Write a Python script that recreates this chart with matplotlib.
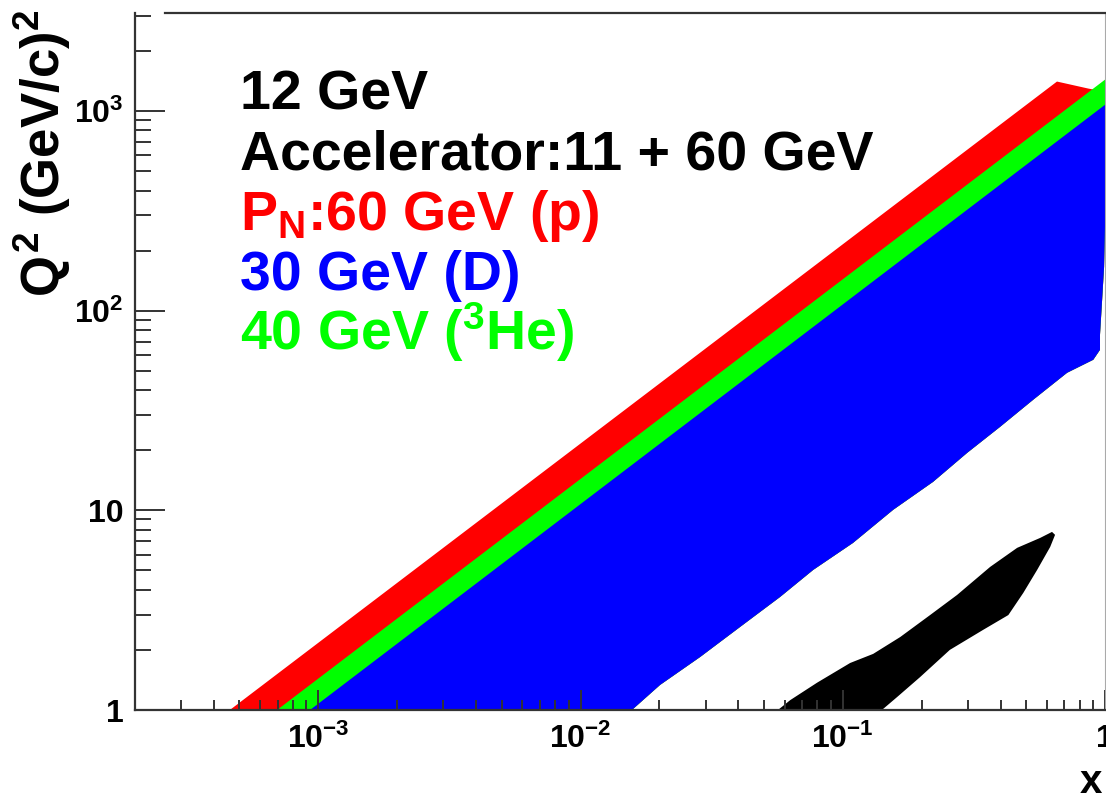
import numpy as np
import matplotlib
matplotlib.use("Agg")
import matplotlib.pyplot as plt
from matplotlib.ticker import FixedLocator, FixedFormatter, LogLocator, NullFormatter

plt.rcParams["font.family"] = ["Liberation Sans", "DejaVu Sans"]
plt.rcParams["font.weight"] = "bold"
plt.rcParams["mathtext.fontset"] = "custom"
plt.rcParams["mathtext.rm"] = "Liberation Sans:bold"
plt.rcParams["mathtext.it"] = "Liberation Sans:bold"
plt.rcParams["mathtext.bf"] = "Liberation Sans:bold"
plt.rcParams["mathtext.sf"] = "Liberation Sans:bold"

# ---- axis ranges and ticks ----
x_range = (2e-4, 1.0)
q2_range = (1.0, 3100.0)
x_ticks = [1e-3, 1e-2, 1e-1, 1.0]
x_tick_labels = [r"$10^{-3}$", r"$10^{-2}$", r"$10^{-1}$", "1"]
q2_ticks = [1.0, 10.0, 100.0, 1000.0]
q2_tick_labels = ["1", "10", r"$10^{2}$", r"$10^{3}$"]

# ---- EIC coverage: shared lower / right boundary (x, Q2) ----
edge_x = [0.0157, 0.0201, 0.0286, 0.0406, 0.0577, 0.0771, 0.1094, 0.1556,
          0.2211, 0.2979, 0.398, 0.532, 0.717, 0.902, 0.957, 0.957, 0.975,
          0.992, 1.0]
edge_q2 = [1.0, 1.335, 1.844, 2.607, 3.685, 5.03, 6.87, 10.06, 13.9, 19.4,
           26.2, 35.8, 48.9, 56.8, 63.7, 75.8, 113.5, 166.0, 264.0]

# upper boundaries of each beam configuration
p60_top_x = [4.6e-4, 0.656, 0.863, 1.0]
p60_top_q2 = [1.0, 1406.0, 1297.0, 1250.0]
he40_top_x = [6.96e-4, 1.0]
he40_top_q2 = [1.0, 1437.0]
d30_top_x = [9.3e-4, 1.0]
d30_top_q2 = [1.0, 1075.0]

# ---- 12 GeV fixed-target coverage ----
jlab_x = [0.0566, 0.0630, 0.0798, 0.1067, 0.1306, 0.1656, 0.2153, 0.2729,
          0.3648, 0.4624, 0.5662, 0.628, 0.645, 0.618, 0.551, 0.488, 0.428,
          0.343, 0.256, 0.197, 0.161, 0.141]
jlab_q2 = [1.0, 1.12, 1.37, 1.72, 1.91, 2.32, 2.99, 3.77, 5.21, 6.49, 7.28,
           7.80, 7.54, 6.56, 5.03, 3.86, 2.99, 2.52, 2.00, 1.46, 1.16, 1.0]

RED, GREEN, BLUE = "#ff0000", "#00ff00", "#0000ff"

W, H = 1106, 793
fig = plt.figure(figsize=(W / 100, H / 100), dpi=100)
ax = fig.add_axes([135 / W, (H - 710) / H, (1105 - 135) / W, (710 - 13) / H])
ax.set_xscale("log")
ax.set_yscale("log")
ax.set_xlim(*x_range)
ax.set_ylim(*q2_range)


def band(top_x, top_q2):
    xs = list(top_x) + edge_x[::-1]
    ys = list(top_q2) + edge_q2[::-1]
    return xs, ys


for tx, tq, col in [(p60_top_x, p60_top_q2, RED),
                    (he40_top_x, he40_top_q2, GREEN),
                    (d30_top_x, d30_top_q2, BLUE)]:
    xs, ys = band(tx, tq)
    ax.fill(xs, ys, color=col, lw=0)

ax.fill(jlab_x, jlab_q2, color="black", lw=0)

# ---- axes styling ----
axis_col = "#333333"
for side in ["left", "bottom", "top"]:
    ax.spines[side].set_color(axis_col)
    ax.spines[side].set_linewidth(1.6)
ax.spines["right"].set_color("#aaaaaa")
ax.spines["right"].set_linewidth(0.8)
ax.spines["top"].set_bounds(2.6e-4, 1.0)

ax.xaxis.set_major_locator(FixedLocator(x_ticks))
ax.xaxis.set_major_formatter(FixedFormatter(x_tick_labels))
ax.yaxis.set_major_locator(FixedLocator(q2_ticks))
ax.yaxis.set_major_formatter(FixedFormatter(q2_tick_labels))
ax.xaxis.set_minor_locator(LogLocator(base=10, subs=np.arange(2, 10)))
ax.yaxis.set_minor_locator(LogLocator(base=10, subs=np.arange(2, 10)))
ax.xaxis.set_minor_formatter(NullFormatter())
ax.yaxis.set_minor_formatter(NullFormatter())

ax.tick_params(axis="both", which="both", direction="in", color=axis_col,
               width=1.4, top=False, right=False)
ax.tick_params(axis="x", which="major", length=14.4, pad=10, labelsize=23)
ax.tick_params(axis="x", which="minor", length=7.2)
ax.tick_params(axis="y", which="major", length=21.6, pad=8, labelsize=23)
ax.tick_params(axis="y", which="minor", length=11.5)

# axis titles
fig.text(42 / W, (H - 10) / H, r"$Q^{2}$ (GeV/c)$^{2}$", rotation=90,
         ha="center", va="top", fontsize=38, fontweight="bold")
fig.text(1102 / W, 0.0, "x", ha="right", va="baseline", fontsize=29,
         fontweight="bold")

# legend text
lines = [("12 GeV", "black"),
         ("Accelerator:11 + 60 GeV", "black"),
         (r"P$_{N}$:60 GeV (p)", RED),
         ("30 GeV (D)", BLUE),
         (r"40 GeV ($^{3}$He)", GREEN)]
baselines = [110, 170, 230, 290, 350]
for (txt, col), yb in zip(lines, baselines):
    fig.text(240 / W, (H - yb) / H, txt, color=col, fontsize=40,
             fontweight="bold", ha="left", va="baseline")

fig.savefig("out.png", dpi=100)
